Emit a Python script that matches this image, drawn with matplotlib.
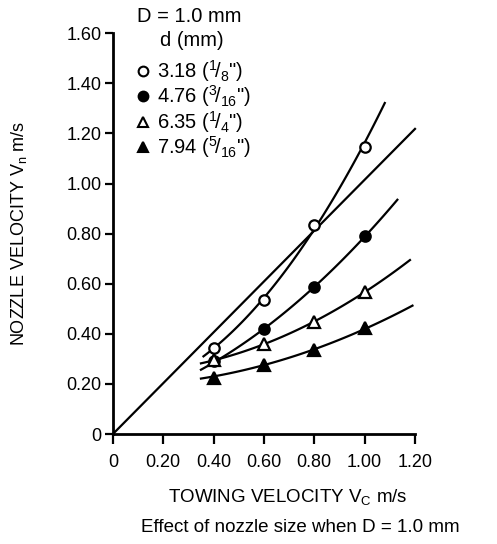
import numpy as np
import matplotlib
matplotlib.use('Agg')
from matplotlib import pyplot as plt

plt.rcParams['font.family'] = ['Liberation Sans', 'DejaVu Sans']
plt.rcParams['mathtext.fontset'] = 'custom'
plt.rcParams['mathtext.rm'] = 'Liberation Sans'
plt.rcParams['mathtext.it'] = 'Liberation Sans'

# towing velocity of the measured points (m/s)
vc = [0.40, 0.60, 0.80, 1.00]

# nozzle velocity for each nozzle diameter d (m/s)
vn_318 = [0.345, 0.534, 0.833, 1.146]
vn_476 = [0.290, 0.418, 0.587, 0.790]
vn_635 = [0.297, 0.360, 0.446, 0.569]
vn_794 = [0.225, 0.274, 0.337, 0.425]

# hand drawn curves through the points (x, y)
curve_318 = ([0.36, 0.40, 0.60, 0.80, 1.00, 1.08], [0.31, 0.345, 0.534, 0.833, 1.146, 1.33])
curve_476 = ([0.35, 0.40, 0.60, 0.80, 1.00, 1.13], [0.254, 0.290, 0.418, 0.587, 0.790, 0.934])
curve_635 = ([0.35, 0.40, 0.60, 0.80, 1.00, 1.18], [0.280, 0.297, 0.360, 0.446, 0.569, 0.694])
curve_794 = ([0.35, 0.40, 0.60, 0.80, 1.00, 1.19], [0.227, 0.225, 0.274, 0.337, 0.425, 0.510])

# Vn = Vc reference line
line_x = [0.0, 1.2]
line_y = [0.0, 1.218]

xticks = [0, 0.2, 0.4, 0.6, 0.8, 1.0, 1.2]
xticklabels = ['0', '0.20', '0.40', '0.60', '0.80', '1.00', '1.20']
yticks = [0, 0.2, 0.4, 0.6, 0.8, 1.0, 1.2, 1.4, 1.6]
yticklabels = ['0', '0.20', '0.40', '0.60', '0.80', '1.00', '1.20', '1.40', '1.60']

legend_labels = ['3.18 ($^{1}\\!/_{8}$")', '4.76 ($^{3}\\!/_{16}$")',
                 '6.35 ($^{1}\\!/_{4}$")', '7.94 ($^{5}\\!/_{16}$")']

fig = plt.figure(figsize=(4.97, 5.44), dpi=100)
ax = fig.add_axes([0.227, 0.202, 0.608, 0.737])

lw = 1.6
ax.plot(line_x, line_y, color='black', lw=lw, clip_on=False)

curves = [curve_318, curve_476, curve_635, curve_794]
for cx, cy in curves:
    p = np.polyfit(cx, cy, 2)
    xs = np.linspace(cx[0], cx[-1], 100)
    ax.plot(xs, np.polyval(p, xs), color='black', lw=lw, clip_on=False)

ax.plot(vc, vn_318, 'o', ms=7.5, mfc='white', mec='black', mew=1.6, clip_on=False)
ax.plot(vc, vn_476, 'o', ms=7.5, mfc='black', mec='black', mew=1.6, clip_on=False)
ax.plot(vc, vn_635, '^', ms=8.5, mfc='white', mec='black', mew=1.6, clip_on=False)
ax.plot(vc, vn_794, '^', ms=8.5, mfc='black', mec='black', mew=1.6, clip_on=False)

ax.set_xlim(0, 1.2)
ax.set_ylim(0, 1.6)
ax.set_xticks(xticks)
ax.set_xticklabels(xticklabels, fontsize=13)
ax.set_yticks(yticks)
ax.set_yticklabels(yticklabels, fontsize=13)
ax.tick_params(axis='x', direction='out', length=7, width=1.6, pad=7)
ax.tick_params(axis='y', direction='out', length=6, width=1.6, pad=2)
ax.spines['top'].set_visible(False)
ax.spines['right'].set_visible(False)
ax.spines['left'].set_linewidth(2)
ax.spines['bottom'].set_linewidth(2)

ax.set_ylabel('NOZZLE VELOCITY V$_\\mathrm{n}$ m/s', fontsize=13, labelpad=27)

# x label sits right of the axis centre in the original
fig.text(288 / 497, 1 - 497 / 544, 'TOWING VELOCITY V$_\\mathrm{C}$ m/s', fontsize=13.5,
         ha='center', va='center')

# legend block in the upper left
fig.text(137 / 497, 1 - 17 / 544, 'D = 1.0 mm', fontsize=14.5, va='center', ha='left')
fig.text(160 / 497, 1 - 41 / 544, 'd (mm)', fontsize=14.5, va='center', ha='left')
markers = [('o', 'white'), ('o', 'black'), ('^', 'white'), ('^', 'black')]
for i, (lab, (m, fc)) in enumerate(zip(legend_labels, markers)):
    yy = 1 - (71 + 25.3 * i) / 544
    fig.lines.append(plt.Line2D([143 / 497], [yy], marker=m, ms=7, mfc=fc, mec='black',
                                mew=1.5, transform=fig.transFigure))
    fig.text(157 / 497, yy, lab, fontsize=14.5, va='center', ha='left')

fig.text(300 / 497, 1 - 527 / 544, 'Effect of nozzle size when D = 1.0 mm', fontsize=13.5,
         ha='center', va='center')

fig.savefig('out.png', dpi=100)
